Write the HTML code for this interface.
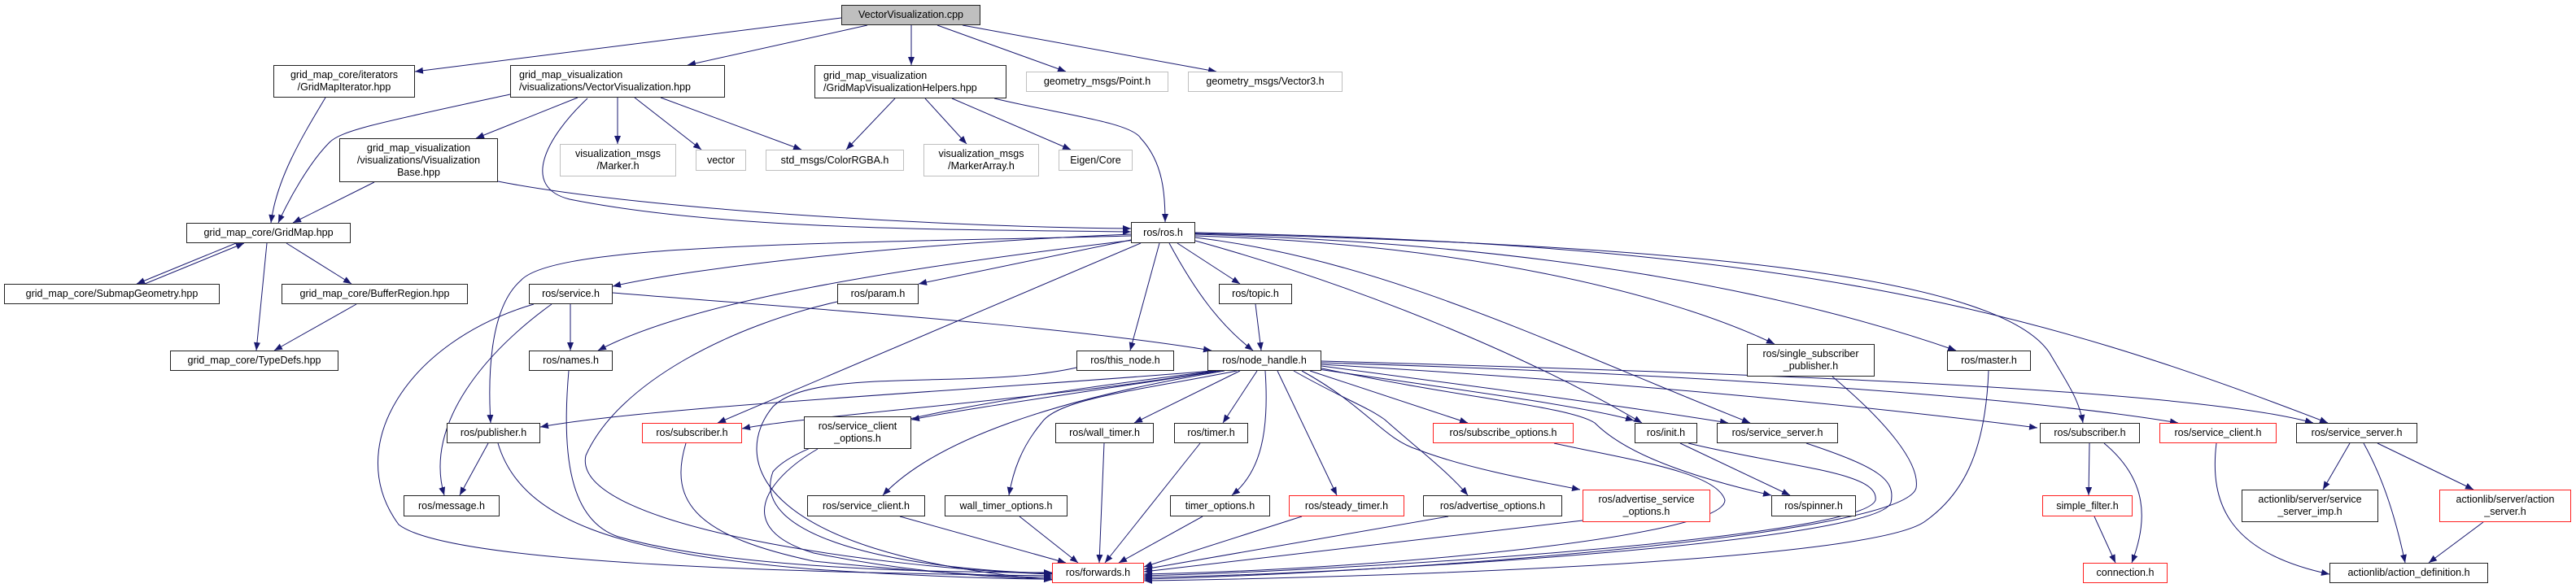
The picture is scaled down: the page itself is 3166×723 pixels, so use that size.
<!DOCTYPE html>
<html><head><meta charset="utf-8"><style>
html,body{margin:0;padding:0;background:#fff;}
#c{position:relative;width:3166px;height:723px;overflow:hidden;background:#fff;}
svg{position:absolute;left:0;top:0;}
.n{position:absolute;box-sizing:border-box;border:1.3px solid #222;background:#fff;font-family:"Liberation Sans","DejaVu Sans",sans-serif;font-size:12.5px;line-height:15px;color:#000;text-align:center;display:flex;align-items:center;justify-content:center;white-space:nowrap;}
.g{border-color:#bfbfbf;}
.r{border-color:#ff2020;}
.l{text-align:left;justify-content:flex-start;padding-left:10px;}
</style></head><body><div id="c">
<svg width="3166" height="723" viewBox="0 0 3166 723">
<defs><marker id="a" markerWidth="11" markerHeight="8" refX="10" refY="4" orient="auto" markerUnits="userSpaceOnUse"><path d="M0,0 L10,4 L0,8 z" fill="#191970"/></marker></defs>
<g fill="none" stroke="#191970" stroke-width="1" marker-end="url(#a)">
<path d="M1034 22 L510 88"/>
<path d="M1066 31 L845 80"/>
<path d="M1120 31 L1120 80"/>
<path d="M1152 31 L1310 88"/>
<path d="M1183 31 L1495 88"/>
<path d="M627 116 C470 150 420 160 405 175 C380 200 355 245 342 274"/>
<path d="M400 120 C370 170 340 220 333 274"/>
<path d="M710 120 L585 170"/>
<path d="M722 121 C670 170 640 230 700 245 C900 285 1200 282 1390 285"/>
<path d="M759 120 L759 177"/>
<path d="M780 120 L862 184"/>
<path d="M812 120 L985 184"/>
<path d="M460 224 L360 274"/>
<path d="M612 223 C800 260 1200 280 1390 281"/>
<path d="M1100 121 L1040 184"/>
<path d="M1137 121 L1188 177"/>
<path d="M1170 121 L1316 184"/>
<path d="M1222 121 C1300 140 1390 150 1402 170 C1430 200 1432 240 1432 273"/>
<path d="M290 299 L168 349"/>
<path d="M178 349 L300 299"/>
<path d="M328 299 L315 431"/>
<path d="M352 299 L432 349"/>
<path d="M438 374 L337 431"/>
<path d="M1390 288 C1100 300 850 330 753 352"/>
<path d="M1390 290 C1000 300 680 300 640 345 C600 380 600 470 603 520"/>
<path d="M1390 295 L1129 349"/>
<path d="M1395 295 C1100 330 850 370 735 431"/>
<path d="M1402 299 L882 520"/>
<path d="M1425 299 L1389 431"/>
<path d="M1437 299 C1470 360 1500 400 1540 431"/>
<path d="M1447 299 L1524 349"/>
<path d="M1469 296 C1700 360 1900 450 2018 520"/>
<path d="M1469 292 C1700 320 1900 420 2151 520"/>
<path d="M1469 290 C1800 300 2050 360 2181 423"/>
<path d="M1469 288 C1900 300 2200 360 2404 431"/>
<path d="M1469 287 C2000 300 2450 330 2519 434 C2540 470 2555 490 2560 520"/>
<path d="M1469 286 C2200 300 2500 380 2861 520"/>
<path d="M753 360 C1000 380 1300 400 1489 431"/>
<path d="M701 374 L701 431"/>
<path d="M678 374 C600 430 520 520 546 609"/>
<path d="M656 374 C500 420 420 550 490 645 C560 700 1100 705 1293 708"/>
<path d="M1029 371 C900 400 760 470 720 560 C700 650 1100 700 1293 706"/>
<path d="M699 456 C690 560 700 640 760 660 C900 700 1150 704 1293 704"/>
<path d="M600 545 L565 609"/>
<path d="M612 545 C640 640 760 680 1000 700 C1150 710 1250 712 1293 712"/>
<path d="M843 545 C820 620 860 660 1000 690 C1150 705 1250 710 1293 710"/>
<path d="M1323 452 C1200 480 1000 450 950 500 C900 560 920 680 1293 713"/>
<path d="M1543 374 L1550 431"/>
<path d="M1490 456 C1200 480 800 500 664 525"/>
<path d="M1495 456 C1300 490 1000 510 912 527"/>
<path d="M1500 456 C1350 480 1200 500 1120 516"/>
<path d="M1505 456 C1300 490 1150 540 1085 609"/>
<path d="M1524 456 L1394 520"/>
<path d="M1520 456 C1400 480 1300 490 1280 520 C1255 550 1245 580 1240 609"/>
<path d="M1545 456 L1503 520"/>
<path d="M1555 456 C1560 530 1550 580 1514 609"/>
<path d="M1570 456 L1643 609"/>
<path d="M1590 456 C1650 490 1680 500 1702 516 C1740 550 1780 580 1804 609"/>
<path d="M1600 456 C1680 500 1700 540 1743 553 C1800 575 1880 590 1942 602"/>
<path d="M1610 456 L1804 520"/>
<path d="M1620 454 C1800 480 1950 500 2008 517"/>
<path d="M1620 452 C1800 490 1930 500 1960 520 C1990 550 2050 580 2177 609"/>
<path d="M1624 450 C1850 480 2000 500 2124 520"/>
<path d="M1624 448 C2000 470 2300 500 2504 526"/>
<path d="M1624 446 C2100 460 2500 490 2677 520"/>
<path d="M1624 444 C2200 460 2700 480 2843 520"/>
<path d="M1495 456 C1300 480 1000 520 950 580 C920 660 1100 700 1293 705"/>
<path d="M1005 552 C940 590 900 650 1000 680 C1100 700 1200 710 1293 712"/>
<path d="M1106 635 L1310 692"/>
<path d="M1253 635 L1325 692"/>
<path d="M1357 545 L1351 692"/>
<path d="M1475 545 L1358 692"/>
<path d="M1478 635 L1375 692"/>
<path d="M1600 635 L1406 697"/>
<path d="M1780 635 L1406 700"/>
<path d="M1945 640 L1406 703"/>
<path d="M1910 545 C2000 565 2110 580 2120 615 C2120 660 1700 700 1406 706"/>
<path d="M2065 545 L2200 609"/>
<path d="M2075 545 C2200 575 2310 580 2305 615 C2290 660 1700 700 1406 708"/>
<path d="M2220 545 C2310 575 2330 590 2324 618 C2310 665 1700 705 1406 710"/>
<path d="M2252 463 C2320 520 2360 570 2355 600 C2340 660 1700 705 1406 712"/>
<path d="M2444 456 C2440 560 2410 610 2366 641 C2300 690 1700 710 1406 714"/>
<path d="M2568 545 L2567 609"/>
<path d="M2586 545 C2640 590 2640 640 2620 692"/>
<path d="M2574 635 L2600 692"/>
<path d="M2724 545 C2715 620 2740 680 2863 706"/>
<path d="M2888 545 L2855 602"/>
<path d="M2905 545 C2930 590 2945 640 2956 692"/>
<path d="M2922 545 L3040 602"/>
<path d="M3052 642 L2985 692"/>
</g></svg>
<div class="n" style="left:1034px;top:6px;width:171px;height:25px;background:#bfbfbf;border-color:#222">VectorVisualization.cpp</div>
<div class="n" style="left:336px;top:80px;width:174px;height:40px">grid_map_core/iterators<br>/GridMapIterator.hpp</div>
<div class="n l" style="left:627px;top:80px;width:264px;height:40px">grid_map_visualization<br>/visualizations/VectorVisualization.hpp</div>
<div class="n l" style="left:1001px;top:80px;width:236px;height:41px">grid_map_visualization<br>/GridMapVisualizationHelpers.hpp</div>
<div class="n g" style="left:1261px;top:88px;width:175px;height:25px">geometry_msgs/Point.h</div>
<div class="n g" style="left:1460px;top:88px;width:190px;height:25px">geometry_msgs/Vector3.h</div>
<div class="n" style="left:417px;top:170px;width:195px;height:54px">grid_map_visualization<br>/visualizations/Visualization<br>Base.hpp</div>
<div class="n g" style="left:688px;top:177px;width:143px;height:40px">visualization_msgs<br>/Marker.h</div>
<div class="n g" style="left:855px;top:184px;width:62px;height:26px">vector</div>
<div class="n g" style="left:941px;top:184px;width:170px;height:26px">std_msgs/ColorRGBA.h</div>
<div class="n g" style="left:1135px;top:177px;width:142px;height:40px">visualization_msgs<br>/MarkerArray.h</div>
<div class="n g" style="left:1301px;top:184px;width:91px;height:26px">Eigen/Core</div>
<div class="n" style="left:229px;top:274px;width:202px;height:25px">grid_map_core/GridMap.hpp</div>
<div class="n" style="left:1390px;top:273px;width:79px;height:26px">ros/ros.h</div>
<div class="n" style="left:5px;top:349px;width:265px;height:25px">grid_map_core/SubmapGeometry.hpp</div>
<div class="n" style="left:346px;top:349px;width:229px;height:25px">grid_map_core/BufferRegion.hpp</div>
<div class="n" style="left:650px;top:349px;width:103px;height:25px">ros/service.h</div>
<div class="n" style="left:1029px;top:349px;width:100px;height:25px">ros/param.h</div>
<div class="n" style="left:1498px;top:349px;width:90px;height:25px">ros/topic.h</div>
<div class="n" style="left:209px;top:431px;width:207px;height:25px">grid_map_core/TypeDefs.hpp</div>
<div class="n" style="left:650px;top:431px;width:103px;height:25px">ros/names.h</div>
<div class="n" style="left:1323px;top:431px;width:120px;height:25px">ros/this_node.h</div>
<div class="n" style="left:1484px;top:431px;width:140px;height:25px">ros/node_handle.h</div>
<div class="n" style="left:2147px;top:423px;width:157px;height:40px">ros/single_subscriber<br>_publisher.h</div>
<div class="n" style="left:2393px;top:431px;width:103px;height:25px">ros/master.h</div>
<div class="n" style="left:549px;top:520px;width:115px;height:25px">ros/publisher.h</div>
<div class="n r" style="left:789px;top:520px;width:123px;height:25px">ros/subscriber.h</div>
<div class="n" style="left:988px;top:512px;width:132px;height:40px">ros/service_client<br>_options.h</div>
<div class="n" style="left:1297px;top:520px;width:121px;height:25px">ros/wall_timer.h</div>
<div class="n" style="left:1443px;top:520px;width:91px;height:25px">ros/timer.h</div>
<div class="n r" style="left:1761px;top:520px;width:173px;height:25px">ros/subscribe_options.h</div>
<div class="n" style="left:2009px;top:520px;width:77px;height:25px">ros/init.h</div>
<div class="n" style="left:2110px;top:520px;width:149px;height:25px">ros/service_server.h</div>
<div class="n" style="left:2507px;top:520px;width:123px;height:25px">ros/subscriber.h</div>
<div class="n r" style="left:2654px;top:520px;width:144px;height:25px">ros/service_client.h</div>
<div class="n" style="left:2822px;top:520px;width:149px;height:25px">ros/service_server.h</div>
<div class="n" style="left:496px;top:609px;width:118px;height:26px">ros/message.h</div>
<div class="n" style="left:992px;top:609px;width:145px;height:26px">ros/service_client.h</div>
<div class="n" style="left:1161px;top:609px;width:151px;height:26px">wall_timer_options.h</div>
<div class="n" style="left:1438px;top:609px;width:123px;height:26px">timer_options.h</div>
<div class="n r" style="left:1584px;top:609px;width:142px;height:26px">ros/steady_timer.h</div>
<div class="n" style="left:1749px;top:609px;width:171px;height:26px">ros/advertise_options.h</div>
<div class="n r" style="left:1945px;top:602px;width:157px;height:40px">ros/advertise_service<br>_options.h</div>
<div class="n" style="left:2177px;top:609px;width:104px;height:26px">ros/spinner.h</div>
<div class="n r" style="left:2510px;top:609px;width:111px;height:26px">simple_filter.h</div>
<div class="n" style="left:2755px;top:602px;width:168px;height:40px">actionlib/server/service<br>_server_imp.h</div>
<div class="n r" style="left:2998px;top:602px;width:162px;height:40px">actionlib/server/action<br>_server.h</div>
<div class="n r" style="left:1293px;top:692px;width:113px;height:25px">ros/forwards.h</div>
<div class="n r" style="left:2560px;top:692px;width:104px;height:25px">connection.h</div>
<div class="n" style="left:2863px;top:692px;width:195px;height:25px">actionlib/action_definition.h</div>
</div></body></html>
